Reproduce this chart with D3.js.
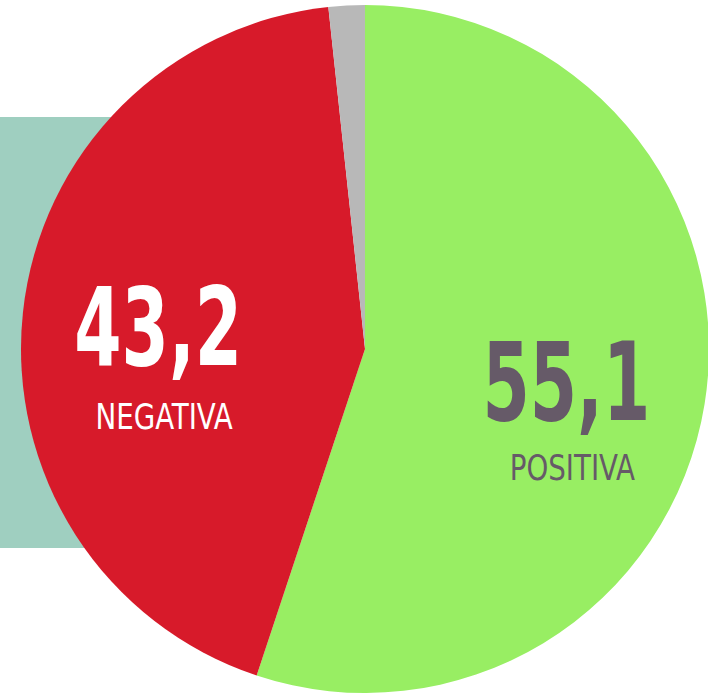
<!DOCTYPE html>
<html>
<head>
<meta charset="utf-8">
<script src="https://cdn.jsdelivr.net/npm/d3@7"></script>
<style>
  body { margin: 0; background: #fff; }
  svg { display: block; }
</style>
</head>
<body>
<div id="chart"></div>
<script>
// slice data, clockwise from 12 o'clock
const categories = ["POSITIVA", "NEGATIVA", "OTRO"];
const values = [55.1, 43.2, 1.7];
const valueLabels = ["55,1", "43,2", ""];
const colors = ["#98ee63", "#d71a2a", "#b8b8b8"];
const textColors = ["#665a68", "#ffffff", "#ffffff"];

const width = 708, height = 696;
const cx = 365, cy = 349, radius = 344;
const font = "'DejaVu Sans Condensed', 'DejaVu Sans', sans-serif";

const svg = d3.select("#chart")
  .append("svg")
  .attr("width", width)
  .attr("height", height);

// teal panel behind the pie
svg.append("rect")
  .attr("x", 0)
  .attr("y", 117)
  .attr("width", 200)
  .attr("height", 431)
  .attr("fill", "#9fcfc0");

const data = categories.map((c, i) => ({ category: c, value: values[i], label: valueLabels[i], color: colors[i], text: textColors[i] }));

const pie = d3.pie()
  .sort(null)
  .value(d => d.value);

const arc = d3.arc()
  .innerRadius(0)
  .outerRadius(radius);

const labelArc = d3.arc()
  .innerRadius(206)
  .outerRadius(206);

const g = svg.append("g")
  .attr("transform", `translate(${cx}, ${cy})`);

g.selectAll("path")
  .data(pie(data))
  .join("path")
  .attr("d", arc)
  .attr("fill", d => d.data.color);

// labels for the two big slices (squeezed to look like a condensed face)
const labels = g.selectAll("g.label")
  .data(pie(data).filter(d => d.data.label !== ""))
  .join("g")
  .attr("class", "label")
  .attr("transform", d => `translate(${labelArc.centroid(d)})`);

labels.append("text")
  .attr("text-anchor", "middle")
  .attr("transform", "translate(-2, 38) scale(0.7, 1)")
  .attr("font-family", font)
  .attr("font-weight", "bold")
  .attr("font-size", 108)
  .attr("fill", d => d.data.text)
  .text(d => d.data.label);

labels.append("text")
  .attr("text-anchor", "middle")
  .attr("transform", d => `translate(4, ${d.data.category === "NEGATIVA" ? 102 : 98}) scale(0.88, 1)`)
  .attr("font-family", font)
  .attr("font-size", 35)
  .attr("fill", d => d.data.text)
  .text(d => d.data.category);
</script>
</body>
</html>
